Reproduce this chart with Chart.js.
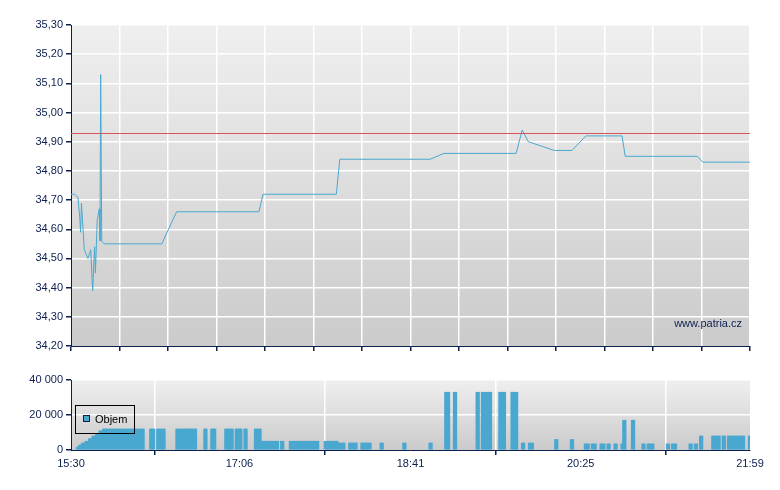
<!DOCTYPE html>
<html>
<head>
<meta charset="utf-8">
<script src="https://cdn.jsdelivr.net/npm/chart.js@4"></script>
<style>
  body { margin: 0; background: #fff; }
  #wrap { position: relative; width: 780px; height: 490px; }
  #priceBox { position: absolute; left: 0; top: 0; width: 780px; height: 360px; }
  #volBox { position: absolute; left: 0; top: 370px; width: 780px; height: 120px; }
</style>
</head>
<body>
<div id="wrap">
  <div id="priceBox"><canvas id="priceChart"></canvas></div>
  <div id="volBox"><canvas id="volChart"></canvas></div>
</div>
<script>
// minutes since 15:30
const priceMinutes = [0, 2, 4, 5, 5.5, 6, 7.6, 9.7, 11.3, 12.4, 13.5, 14, 15, 16.2, 16.6, 17, 17.6, 19, 52, 60.5,
  107.7, 110, 152, 154, 205.7, 213.7, 255, 258.5, 262, 277, 287, 295, 315.7, 317.5, 358.7, 362, 389];
const priceValues = [34.72, 34.72, 34.71, 34.64, 34.59, 34.69, 34.53, 34.50, 34.53, 34.39, 34.54, 34.45, 34.63, 34.67, 34.56, 35.13, 34.56, 34.55, 34.55, 34.66,
  34.66, 34.72, 34.72, 34.84, 34.84, 34.86, 34.86, 34.94, 34.90, 34.87, 34.87, 34.92, 34.92, 34.85, 34.85, 34.83, 34.83];
const refPrice = 34.93;

// volume runs: [from minute, to minute, volume]
const volumeRuns = [
  [3, 3, 1500], [4, 4, 2500], [5, 5, 3000], [6, 7, 4000], [8, 9, 5000], [10, 11, 6500], [12, 13, 8000],
  [14, 15, 9500], [16, 17, 11000], [18, 41, 12000], [45, 47, 12000], [49, 53, 12000], [60, 61, 12000],
  [62, 71, 12000], [76, 77, 12000], [80, 82, 12000], [88, 90, 12000], [91, 92, 12000], [94, 97, 12000],
  [99, 100, 12000], [105, 108, 12000], [109, 115, 5000], [116, 118, 5000], [120, 121, 5000], [125, 131, 5000],
  [132, 134, 5000], [135, 136, 5000], [137, 141, 5000], [145, 152, 5000], [153, 156, 4000], [159, 161, 4000],
  [162, 163, 4000], [166, 169, 4000], [170, 171, 4000], [177, 178, 4000], [190, 191, 4000], [205, 206, 4000],
  [214, 216, 33000], [219, 220, 33000], [232, 233, 33000], [235, 240, 33000], [245, 248, 33000], [252, 255, 33000],
  [258, 259, 4000], [262, 264, 4000], [277, 278, 6000], [286, 287, 6000], [294, 296, 3500], [298, 300, 3500],
  [303, 305, 3500], [307, 308, 3500], [311, 312, 3500], [315, 315, 3500], [316, 317, 17000], [321, 322, 17000],
  [327, 328, 3500], [330, 331, 3500], [332, 333, 3500], [341, 342, 3500], [344, 346, 3500], [354, 355, 3500],
  [357, 358, 3500], [360, 361, 8000], [367, 371, 8000], [373, 374, 8000], [376, 385, 8000], [388, 388, 8000]
];

const xTickLabels = ['15:30', '17:06', '18:41', '20:25', '21:59'];
const xTickMinutes = [0, 96.5, 194.5, 292, 389];
const totalMinutes = 389;

const lineColor = '#4aa8d0';
const navy = '#0c1f4f';
const font = { family: 'Liberation Sans', size: 11 };

const priceData = priceMinutes.map((m, i) => ({ x: m, y: priceValues[i] }));
const volumeData = [];
volumeRuns.forEach(([a, b, v]) => {
  for (let m = a; m <= b; m++) volumeData.push({ x: m + 0.5, y: v });
});

const plotBg = {
  id: 'plotBg',
  beforeDraw(chart) {
    const { ctx, chartArea: a } = chart;
    const g = ctx.createLinearGradient(0, a.top, 0, a.bottom);
    g.addColorStop(0, '#efefef');
    g.addColorStop(1, '#cbcbcb');
    ctx.save();
    ctx.fillStyle = g;
    ctx.fillRect(a.left, a.top, a.right - a.left, a.bottom - a.top);
    ctx.restore();
  }
};

const priceExtras = {
  id: 'priceExtras',
  afterDatasetsDraw(chart) {
    const { ctx, chartArea: a, scales } = chart;
    ctx.save();
    const y = scales.y.getPixelForValue(refPrice);
    ctx.strokeStyle = '#d9545a';
    ctx.lineWidth = 1;
    ctx.beginPath();
    ctx.moveTo(a.left, Math.round(y) + 0.5);
    ctx.lineTo(a.right, Math.round(y) + 0.5);
    ctx.stroke();
    ctx.fillStyle = navy;
    ctx.font = '11px "Liberation Sans"';
    ctx.textAlign = 'right';
    ctx.fillText('www.patria.cz', a.right - 8, a.bottom - 19);
    ctx.restore();
  }
};

const volLegend = {
  id: 'volLegend',
  afterDraw(chart) {
    const { ctx } = chart;
    ctx.save();
    ctx.strokeStyle = '#000';
    ctx.lineWidth = 1;
    ctx.strokeRect(75.5, 35.5, 59, 28);
    ctx.fillStyle = lineColor;
    ctx.fillRect(83, 45, 7, 7);
    ctx.strokeStyle = '#0c1f4f';
    ctx.strokeRect(83.5, 45.5, 6, 6);
    ctx.fillStyle = '#000';
    ctx.font = '11px "Liberation Sans"';
    ctx.textBaseline = 'middle';
    ctx.fillText('Objem', 95, 50);
    ctx.restore();
  }
};

const gridX = (ticks) => ({
  color: (c) => (c.index === 0 ? 'rgba(0,0,0,0)' : '#ffffff'),
  tickColor: navy,
  tickLength: 5,
  lineWidth: 1.5
});

new Chart(document.getElementById('priceChart'), {
  type: 'line',
  data: {
    datasets: [{
      data: priceData,
      borderColor: lineColor,
      borderWidth: 1,
      pointRadius: 0,
      tension: 0
    }]
  },
  options: {
    responsive: true,
    maintainAspectRatio: false,
    animation: false,
    layout: { padding: { top: 25, right: 30, left: 0, bottom: 0 } },
    plugins: { legend: { display: false }, tooltip: { enabled: false } },
    scales: {
      x: {
        type: 'linear',
        min: 0,
        max: totalMinutes,
        afterBuildTicks: (s) => {
          s.ticks = [];
          for (let i = 0; i <= 14; i++) s.ticks.push({ value: totalMinutes * i / 14 });
        },
        afterFit: (s) => { s.height = 14; },
        ticks: { display: false },
        grid: gridX(),
        border: { color: navy, width: 1 }
      },
      y: {
        min: 34.2,
        max: 35.3,
        afterBuildTicks: (s) => {
          s.ticks = [];
          for (let i = 0; i <= 11; i++) s.ticks.push({ value: +(34.2 + i * 0.1).toFixed(2) });
        },
        afterFit: (s) => { s.width = 71; },
        ticks: {
          color: navy,
          font: font,
          padding: 3,
          callback: (v) => v.toFixed(2).replace('.', ',')
        },
        grid: {
          color: (c) => (c.index === 0 ? 'rgba(0,0,0,0)' : '#ffffff'),
          tickColor: navy,
          tickLength: 5,
          lineWidth: 1.5
        },
        border: { color: navy, width: 1 }
      }
    }
  },
  plugins: [plotBg, priceExtras]
});

new Chart(document.getElementById('volChart'), {
  type: 'bar',
  data: {
    datasets: [{
      data: volumeData,
      backgroundColor: lineColor,
      barThickness: 1.9,
      borderWidth: 0
    }]
  },
  options: {
    responsive: true,
    maintainAspectRatio: false,
    animation: false,
    layout: { padding: { top: 10, right: 30, left: 0, bottom: 0 } },
    plugins: { legend: { display: false }, tooltip: { enabled: false } },
    scales: {
      x: {
        type: 'linear',
        min: 0,
        max: totalMinutes,
        offset: false,
        afterBuildTicks: (s) => { s.ticks = xTickMinutes.map((v) => ({ value: v })); },
        afterFit: (s) => { s.height = 40; },
        ticks: {
          color: navy,
          font: font,
          padding: 2,
          maxRotation: 0,
          autoSkip: false,
          callback: (v, i) => xTickLabels[i]
        },
        grid: gridX(),
        border: { color: navy, width: 1 }
      },
      y: {
        min: 0,
        max: 40000,
        afterBuildTicks: (s) => { s.ticks = [0, 20000, 40000].map((v) => ({ value: v })); },
        afterFit: (s) => { s.width = 71; },
        ticks: {
          color: navy,
          font: font,
          padding: 3,
          callback: (v) => (v === 0 ? '0' : (v / 1000) + ' 000')
        },
        grid: {
          color: (c) => (c.index === 0 ? 'rgba(0,0,0,0)' : '#ffffff'),
          tickColor: navy,
          tickLength: 5,
          lineWidth: 1.5
        },
        border: { color: navy, width: 1 }
      }
    }
  },
  plugins: [plotBg, volLegend]
});
</script>
</body>
</html>
